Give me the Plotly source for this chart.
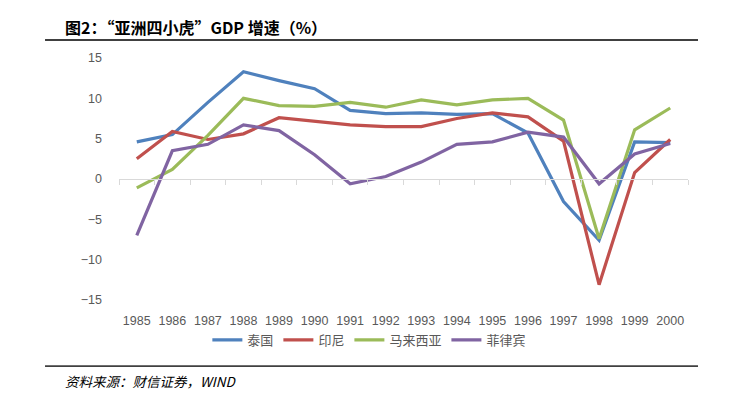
import plotly.graph_objects as go

years = ["1985", "1986", "1987", "1988", "1989", "1990", "1991", "1992",
         "1993", "1994", "1995", "1996", "1997", "1998", "1999", "2000"]
thailand = [4.6, 5.5, 9.5, 13.3, 12.2, 11.2, 8.5, 8.1, 8.2, 8.0, 8.1, 5.7, -2.8, -7.6, 4.6, 4.5]
indonesia = [2.5, 5.9, 4.9, 5.6, 7.6, 7.2, 6.7, 6.5, 6.5, 7.5, 8.2, 7.7, 4.7, -13.1, 0.8, 4.9]
malaysia = [-1.1, 1.2, 5.4, 10.0, 9.1, 9.0, 9.5, 8.9, 9.8, 9.2, 9.8, 10.0, 7.3, -7.4, 6.1, 8.8]
philippines = [-7.0, 3.5, 4.3, 6.7, 6.0, 3.0, -0.6, 0.3, 2.1, 4.3, 4.6, 5.8, 5.2, -0.6, 3.1, 4.4]

series = [
    ("泰国", thailand, "#4F81BD"),
    ("印尼", indonesia, "#C0504D"),
    ("马来西亚", malaysia, "#9BBB59"),
    ("菲律宾", philippines, "#8064A2"),
]

xs = list(range(len(years)))
fig = go.Figure()
for name, vals, color in series:
    fig.add_trace(go.Scatter(x=xs, y=vals, mode="lines", name=name,
                             line=dict(color=color, width=3.2)))

# invisible trace on the zero-line axis
fig.add_trace(go.Scatter(x=[xs[0]], y=[0], xaxis="x2", mode="markers",
                         marker=dict(opacity=0), showlegend=False, hoverinfo="skip"))

axis_font = dict(family="Liberation Sans, Arial", size=12.5, color="#595959")

# page body has an 8px margin, so the figure is 8px smaller and offset accordingly
fig.update_layout(
    width=726, height=388,
    margin=dict(l=111, r=46, t=50, b=96, autoexpand=False),
    paper_bgcolor="white", plot_bgcolor="white",
    showlegend=True,
    legend=dict(orientation="h", x=0.44, xanchor="center", y=-0.165, yanchor="middle",
                font=dict(family="Noto Sans CJK SC", size=13, color="#595959"),
                itemwidth=30, tracegroupgap=0),
    xaxis=dict(range=[-0.5, len(years) - 0.5], tickvals=xs, ticktext=years,
               showgrid=False, zeroline=False, showline=False, ticks="",
               tickfont=axis_font, ticklabelstandoff=11),
    xaxis2=dict(range=[-0.5, len(years) - 0.5], overlaying="x", anchor="free",
                position=0.5, side="bottom",
                tickvals=[i - 0.5 for i in range(len(years) + 1)],
                showticklabels=False, ticks="outside", ticklen=5,
                tickcolor="#D9D9D9", tickwidth=1,
                showline=True, linecolor="#D9D9D9", linewidth=1.3,
                showgrid=False, zeroline=False),
    yaxis=dict(range=[-15, 15], dtick=5, showgrid=False, zeroline=False,
               showline=False, ticks="", tickfont=axis_font, ticklabelstandoff=16),
)

# title and rules
fig.add_annotation(xref="paper", yref="paper", x=-0.099, y=1.128, xanchor="left",
                   yanchor="middle", showarrow=False,
                   text="<b>图2：“亚洲四小虎”GDP 增速（%）</b>",
                   font=dict(family="Noto Sans CJK SC", size=16, color="#000000"))
fig.add_shape(type="line", xref="paper", yref="paper", x0=-0.130, x1=1.0176,
              y0=1.074, y1=1.074, line=dict(color="#000000", width=1.5))
fig.add_shape(type="line", xref="paper", yref="paper", x0=-0.130, x1=1.0176,
              y0=-0.273, y1=-0.273, line=dict(color="#404040", width=1.8))
fig.add_annotation(xref="paper", yref="paper", x=-0.098, y=-0.335, xanchor="left",
                   yanchor="middle", showarrow=False,
                   text="<i>资料来源：财信证券，WIND</i>",
                   font=dict(family="Noto Sans CJK SC", size=13.5, color="#000000"))

fig.write_html("out.html")
